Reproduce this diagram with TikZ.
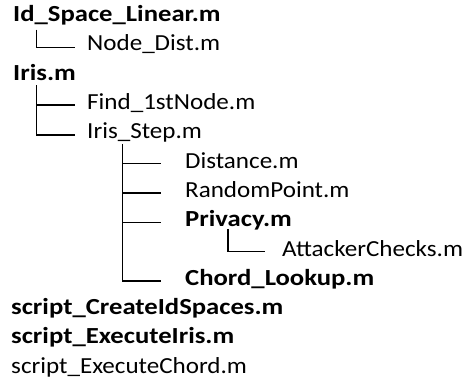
\documentclass[tikz,border=0pt]{standalone}
\usepackage{fontspec}
\setmainfont{Carlito}[FakeStretch=1.09,BoldFeatures={FakeStretch=1.16}]
\usetikzlibrary{calc}
\begin{document}
\begin{tikzpicture}[x=1pt,y=-1pt,
  entry/.style={anchor=base west,inner sep=0pt,font=\fontsize{23}{27}\selectfont},
  main/.style={entry,font=\fontsize{23}{27}\selectfont\bfseries},
  branch/.style={line width=1.3pt,line cap=butt,line join=miter}]
\useasboundingbox (0,0) rectangle (469,387);
% file entries, one per line
\node[main]  (ids)   at (13,21.7)  {Id\_Space\_Linear.m};
\node[entry] (nd)    at (87,51.0)  {Node\_Dist.m};
\node[main]  (iris)  at (13,80.3)  {Iris.m};
\node[entry] (find)  at (87,109.6) {Find\_1stNode.m};
\node[entry] (step)  at (87,138.9) {Iris\_Step.m};
\node[entry] (dist)  at (185,168.2) {Distance.m};
\node[entry] (rand)  at (185,197.5) {RandomPoint.m};
\node[main]  (priv)  at (185,226.8) {Privacy.m};
\node[entry] (att)   at (282,256.1) {AttackerChecks.m};
\node[main]  (chord) at (185,285.4) {Chord\_Lookup.m};
\node[main]  (cre)   at (11,314.7) {script\_CreateIdSpaces.m};
\node[main]  (exi)   at (11,344.0) {script\_ExecuteIris.m};
\node[entry] (exc)   at (11,373.3) {script\_ExecuteChord.m};
% tree branches
\draw[branch] ($(ids.base west)+(23.7,8)$) |- ($(nd.base west)+(-12,-3.5)$);
\draw[branch] ($(iris.base west)+(23.7,5)$) |- ($(step.base west)+(-12,-4)$);
\draw[branch] ($(find.base west)+(-50.3,-4.5)$) -- ($(find.base west)+(-12,-4.5)$);
\draw[branch] ($(step.base west)+(35.7,5)$) |- ($(chord.base west)+(-24.5,-4.5)$);
\draw[branch] ($(dist.base west)+(-62.3,-4.5)$) -- ($(dist.base west)+(-24.5,-4.5)$);
\draw[branch] ($(rand.base west)+(-62.3,-4.5)$) -- ($(rand.base west)+(-24.5,-4.5)$);
\draw[branch] ($(priv.base west)+(-62.3,-4.5)$) -- ($(priv.base west)+(-24.5,-4.5)$);
\draw[branch] ($(priv.base west)+(43,2)$) |- ($(att.base west)+(-17,-4.5)$);
\end{tikzpicture}
\end{document}
